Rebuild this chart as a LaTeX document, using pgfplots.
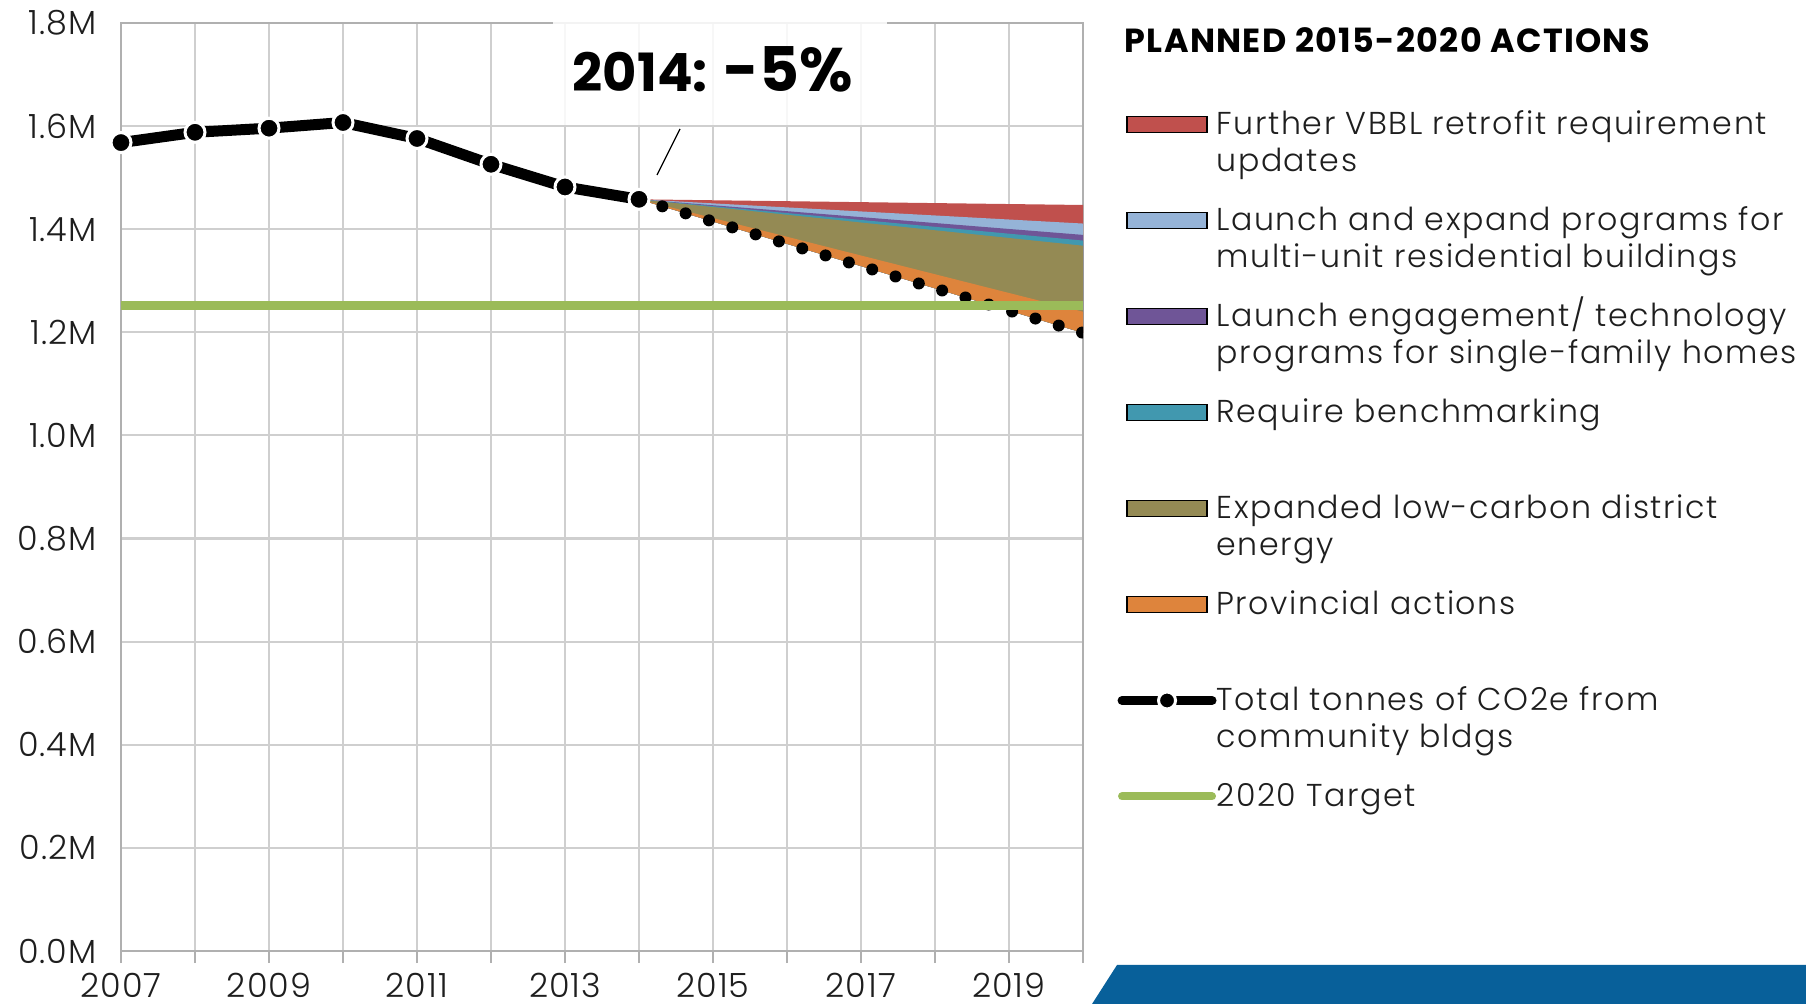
\documentclass[border=0pt]{standalone}
\usepackage{pgfplots}
\pgfplotsset{compat=1.18}
\usepackage{fontspec}
\setmainfont{Poppins}[UprightFont=* Light, BoldFont=* Bold]

\definecolor{cRed}{HTML}{C0504D}
\definecolor{cBlue}{HTML}{95B3D7}
\definecolor{cPurple}{HTML}{6F5597}
\definecolor{cTeal}{HTML}{4198AF}
\definecolor{cOlive}{HTML}{948A54}
\definecolor{cOrange}{HTML}{DE843C}
\definecolor{cGreen}{HTML}{9BBB59}
\definecolor{cGrid}{HTML}{CFCFCF}
\definecolor{cAxis}{HTML}{B0B0B0}
\definecolor{cNavy}{HTML}{08609A}
\definecolor{cText}{HTML}{1E1E1E}

\pgfplotsset{
  swatch/.style={legend image code/.code={\fill[##1] (0mm,0.25mm) rectangle (8mm,1.85mm);}},
  lineleg/.style={legend image code/.code={%
    \draw[##1,line cap=round,mark repeat=2,mark phase=2] plot coordinates {(-0.5mm,1.05mm) (4mm,1.05mm) (8.5mm,1.05mm)};}},
}
\newcommand{\entry}[1]{\parbox[t]{64mm}{\raggedright\addfontfeatures{LetterSpace=5}#1}}

\begin{document}
\begin{tikzpicture}
\begin{scope}[x=0.1mm,y=0.1mm]
\fill[cNavy] (1117,39) -- (1806,39) -- (1806,0) -- (1092,0) -- cycle;
\end{scope}

\begin{axis}[
  at={(12.1mm,5.3mm)}, anchor=south west,
  scale only axis, width=96.2mm, height=92.8mm,
  xmin=2007, xmax=2020, ymin=0, ymax=1.8,
  xtick={2007,2008,...,2020},
  xticklabels={2007,,2009,,2011,,2013,,2015,,2017,,2019,},
  ytick={0,0.2,0.4,0.6,0.8,1,1.2,1.4,1.6,1.8},
  yticklabels={0.0M,0.2M,0.4M,0.6M,0.8M,1.0M,1.2M,1.4M,1.6M,1.8M},
  grid=major,
  major grid style={draw=cGrid, line width=0.6pt},
  axis line style={draw=cAxis, line width=0.7pt},
  xtick pos=left, xtick align=outside,
  major tick length=1.2mm,
  xtick style={draw=cAxis, line width=0.6pt},
  ytick style={draw=none},
  tick label style={font=\fontsize{9.5}{10}\selectfont\addfontfeatures{LetterSpace=3}, text=cText},
  xticklabel style={yshift=-0.5mm, inner ysep=0.4mm},
  yticklabel style={xshift=-1.2mm},
  legend style={at={(axis description cs:1.0359,0.9052)}, anchor=north west,
    draw=none, fill=none, inner sep=0pt, outer sep=0pt,
    row sep=0pt, column sep=0mm,
    font=\fontsize{9}{10.5}\selectfont,
    text=cText,
    nodes={inner ysep=0pt, inner xsep=0pt,
      text height=2.4mm, text depth=7.2mm},
    cells={anchor=base west}},
]
% projected reductions (stacked wedges, 2014 -> 2020)
\addplot[forget plot, fill=cRed, draw=none] coordinates {(2014,1.458) (2020,1.447) (2020,1.199) (2014,1.458)};
\addplot[forget plot, fill=cBlue, draw=none] coordinates {(2014,1.458) (2020,1.411) (2020,1.199) (2014,1.458)};
\addplot[forget plot, fill=cPurple, draw=none] coordinates {(2014,1.458) (2020,1.389) (2020,1.199) (2014,1.458)};
\addplot[forget plot, fill=cTeal, draw=none] coordinates {(2014,1.458) (2020,1.378) (2020,1.199) (2014,1.458)};
\addplot[forget plot, fill=cOlive, draw=none] coordinates {(2014,1.458) (2020,1.368) (2020,1.199) (2014,1.458)};
\addplot[forget plot, fill=cOrange, draw=none] coordinates {(2014,1.458) (2020,1.240) (2020,1.199) (2014,1.458)};
% projected total
\addplot[forget plot, black, line width=1.2mm, line cap=round, dash pattern=on 0pt off 2.435mm]
  coordinates {(2014,1.458) (2020,1.199)};
% target
\addplot[forget plot, cGreen, line width=0.93mm] coordinates {(2007,1.252) (2020,1.252)};
% measured total
\addplot[forget plot, black, line width=1.1mm, mark=*, mark size=1.0mm,
  mark options={solid, fill=black, draw=white, line width=0.3mm}]
  coordinates {(2007,1.568) (2008,1.588) (2009,1.596) (2010,1.607) (2011,1.576) (2012,1.526) (2013,1.482) (2014,1.458)};

\addlegendimage{swatch, fill=cRed}
\addlegendentry{\entry{Further VBBL retrofit requirement\\updates}}
\addlegendimage{swatch, fill=cBlue}
\addlegendentry{\entry{Launch and expand programs for\\multi-unit residential buildings}}
\addlegendimage{swatch, fill=cPurple}
\addlegendentry{\entry{Launch engagement/ technology\\programs for single-family homes}}
\addlegendimage{swatch, fill=cTeal}
\addlegendentry{\entry{Require benchmarking}}
\addlegendimage{swatch, fill=cOlive}
\addlegendentry{\entry{Expanded low-carbon district\\energy}}
\addlegendimage{swatch, fill=cOrange}
\addlegendentry{\entry{Provincial actions}}
\addlegendimage{lineleg, black, line width=0.9mm, mark=*, mark size=0.85mm,
  mark options={solid, fill=black, draw=white, line width=0.3mm}}
\addlegendentry{\entry{Total tonnes of CO2e from\\community bldgs}}
\addlegendimage{lineleg, cGreen, line width=0.8mm}
\addlegendentry{\entry{2020 Target}}
\end{axis}

\begin{scope}[x=0.1mm,y=0.1mm]
\fill[white, opacity=0.85] (553,986) rectangle (887,879);
\node[anchor=base west, inner sep=0pt, text=black] at (572,912)
  {\bfseries\fontsize{15}{18}\selectfont 2014:\hspace{0.3em}\fontsize{17.5}{22}\selectfont -5\%};
\draw[black, line width=0.35pt] (680,875) -- (657,829);
\node[anchor=base west, inner sep=0pt, text=black,
  font=\fontsize{9.5}{10}\selectfont\bfseries\addfontfeatures{LetterSpace=4}]
  at (1124,951) {PLANNED 2015-2020 ACTIONS};
\pgfresetboundingbox
\path[use as bounding box] (0,0) rectangle (1806,1004);
\end{scope}
\end{tikzpicture}
\end{document}
